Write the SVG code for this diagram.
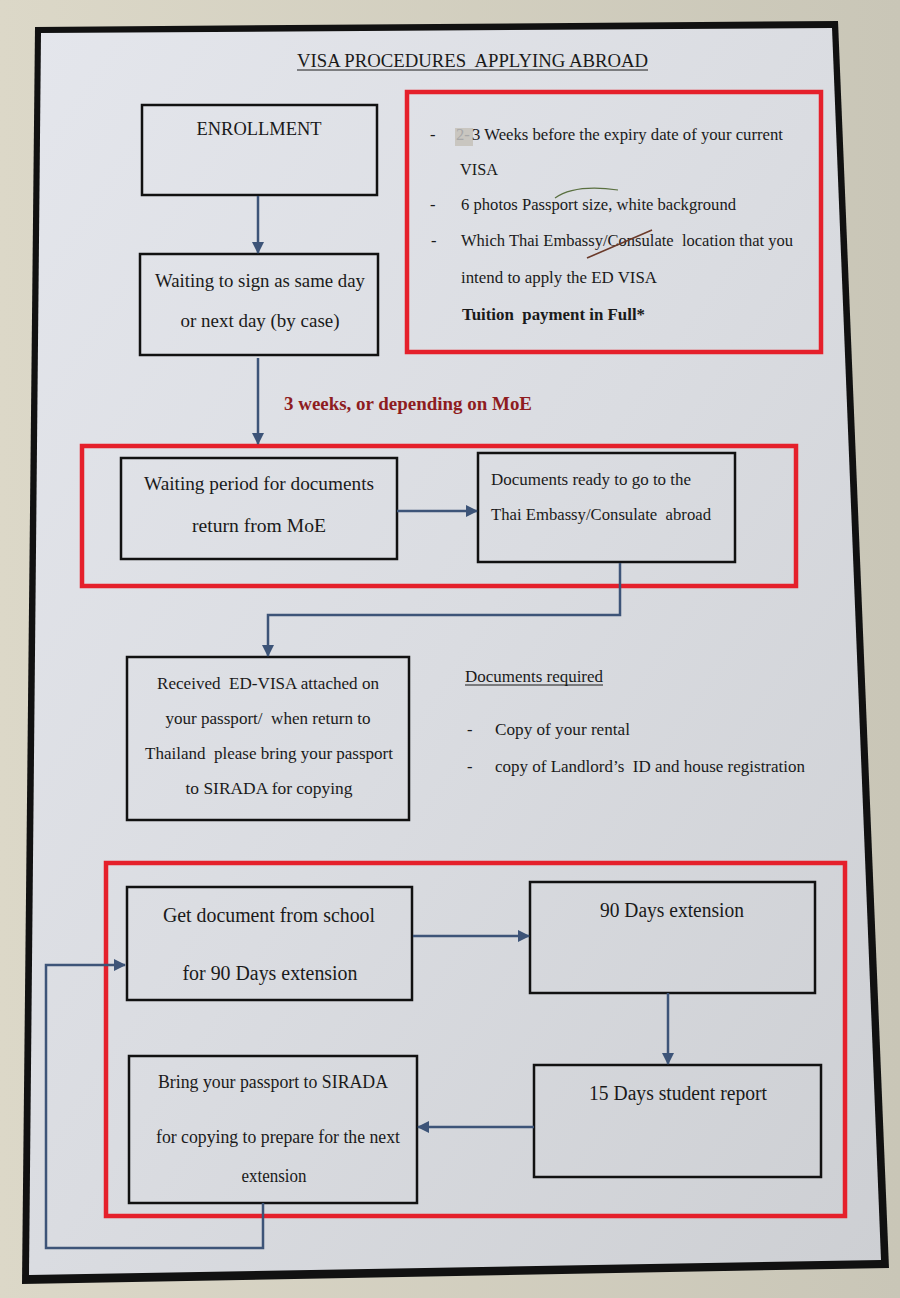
<svg xmlns="http://www.w3.org/2000/svg" width="900" height="1298" viewBox="0 0 900 1298">
<defs>
<linearGradient id="wall" x1="0" y1="0" x2="1" y2="0">
<stop offset="0" stop-color="#dcd8c8"/>
<stop offset="1" stop-color="#c9c6b7"/>
</linearGradient>
<linearGradient id="board" x1="0" y1="0" x2="1" y2="1">
<stop offset="0" stop-color="#e4e6ec"/>
<stop offset="0.5" stop-color="#dadce1"/>
<stop offset="1" stop-color="#cdcfd3"/>
</linearGradient>
<marker id="ah" markerUnits="userSpaceOnUse" markerWidth="12" markerHeight="12" viewBox="0 0 12 12" refX="11" refY="6" orient="auto">
<path d="M0,0 L12,6 L0,12 Z" fill="#3d5478"/>
</marker>
<style>
text{font-family:"Liberation Serif","Times New Roman",serif;fill:#1a1a1a;white-space:pre}
.box{fill:none;stroke:#111;stroke-width:2.5}
.red{fill:none;stroke:#e5202b;stroke-width:4.5}
.conn{fill:none;stroke:#3d5478;stroke-width:2.5}
.c{text-anchor:middle}
.f16{font-size:16.5px}
.f17{font-size:17px}
.f18{font-size:18px}
.f19{font-size:19px}
.f20{font-size:20px}
</style>
</defs>
<rect x="0" y="0" width="900" height="1298" fill="url(#wall)"/>
<polygon points="35,27 838,21 889,1268 22,1284" fill="#111"/>
<polygon points="41,33 832,28 881,1260 29,1275" fill="url(#board)"/>

<g id="title">
<text x="297" y="67" font-size="18.5" textLength="351" lengthAdjust="spacingAndGlyphs">VISA PROCEDURES  APPLYING ABROAD</text>
<line x1="297" y1="70" x2="648" y2="70" stroke="#1a1a1a" stroke-width="1.2"/>
</g>

<g id="requirements">
<rect class="red" x="407" y="92" width="414" height="260"/>
<text class="f16" x="430" y="140">-</text>
<rect x="455" y="128" width="18" height="18" fill="#c9c6c0"/>
<text class="f16" x="456" y="140" style="fill:#a8a8a8">2-</text>
<text class="f16" x="472" y="140" textLength="311" lengthAdjust="spacingAndGlyphs">3 Weeks before the expiry date of your current</text>
<text class="f16" x="460" y="175" textLength="38" lengthAdjust="spacingAndGlyphs">VISA</text>
<text class="f16" x="430" y="210">-</text>
<text class="f16" x="461" y="210" textLength="275" lengthAdjust="spacingAndGlyphs">6 photos Passport size, white background</text>
<text class="f16" x="431" y="246">-</text>
<text class="f16" x="461" y="246" textLength="332" lengthAdjust="spacingAndGlyphs">Which Thai Embassy/Consulate  location that you</text>
<text class="f16" x="461" y="283" textLength="196" lengthAdjust="spacingAndGlyphs">intend to apply the ED VISA</text>
<text class="f16" x="462" y="320" font-weight="bold" textLength="183" lengthAdjust="spacingAndGlyphs">Tuition  payment in Full*</text>
<path d="M555,198 Q575,184 618,190" fill="none" stroke="#5a7040" stroke-width="1.2"/>
<path d="M587,258 L652,230" fill="none" stroke="#6b3a2a" stroke-width="1.6"/>
</g>

<g id="enrollment">
<rect class="box" x="142" y="105" width="235" height="90"/>
<text class="f18 c" x="259" y="135" textLength="125" lengthAdjust="spacingAndGlyphs">ENROLLMENT</text>
</g>

<g id="waiting-sign">
<rect class="box" x="140" y="254" width="238" height="101"/>
<text class="f19 c" x="260" y="287" textLength="210" lengthAdjust="spacingAndGlyphs">Waiting to sign as same day</text>
<text class="f19 c" x="260" y="327" textLength="159" lengthAdjust="spacingAndGlyphs">or next day (by case)</text>
</g>

<g id="duration-label">
<text x="284" y="410" font-size="18.5" font-weight="bold" style="fill:#8e1c1f" textLength="248" lengthAdjust="spacingAndGlyphs">3 weeks, or depending on MoE</text>
</g>

<g id="moe-group">
<rect class="red" x="82" y="446" width="714" height="140"/>
</g>

<g id="waiting-moe">
<rect class="box" x="121" y="458" width="276" height="101"/>
<text class="f19 c" x="259" y="490" textLength="230" lengthAdjust="spacingAndGlyphs">Waiting period for documents</text>
<text class="f19 c" x="259" y="532" textLength="134" lengthAdjust="spacingAndGlyphs">return from MoE</text>
</g>

<g id="documents-ready">
<rect class="box" x="478" y="453" width="257" height="109"/>
<text class="f16" x="491" y="485" textLength="200" lengthAdjust="spacingAndGlyphs">Documents ready to go to the</text>
<text class="f16" x="491" y="520" textLength="220" lengthAdjust="spacingAndGlyphs">Thai Embassy/Consulate  abroad</text>
</g>

<g id="received-visa">
<rect class="box" x="127" y="657" width="282" height="163"/>
<text class="f17 c" x="268" y="689" textLength="222" lengthAdjust="spacingAndGlyphs">Received  ED-VISA attached on</text>
<text class="f17 c" x="268" y="724" textLength="205" lengthAdjust="spacingAndGlyphs">your passport/  when return to</text>
<text class="f17 c" x="269" y="759" textLength="248" lengthAdjust="spacingAndGlyphs">Thailand  please bring your passport</text>
<text class="f17 c" x="269" y="794" textLength="167" lengthAdjust="spacingAndGlyphs">to SIRADA for copying</text>
</g>

<g id="documents-required">
<text class="f16" x="465" y="682" textLength="138" lengthAdjust="spacingAndGlyphs">Documents required</text>
<line x1="465" y1="685" x2="603" y2="685" stroke="#1a1a1a" stroke-width="1"/>
<text class="f16" x="467" y="735">-</text>
<text class="f16" x="495" y="735" textLength="135" lengthAdjust="spacingAndGlyphs">Copy of your rental</text>
<text class="f16" x="467" y="772">-</text>
<text class="f16" x="495" y="772" textLength="310" lengthAdjust="spacingAndGlyphs">copy of Landlord’s  ID and house registration</text>
</g>

<g id="extension-group">
<rect class="red" x="106" y="863" width="739" height="353"/>
</g>

<g id="get-document">
<rect class="box" x="127" y="887" width="285" height="113"/>
<text class="f20 c" x="269" y="922" textLength="212" lengthAdjust="spacingAndGlyphs">Get document from school</text>
<text class="f20 c" x="270" y="980" textLength="175" lengthAdjust="spacingAndGlyphs">for 90 Days extension</text>
</g>

<g id="ninety-days">
<rect class="box" x="530" y="882" width="285" height="111"/>
<text class="f20 c" x="672" y="917" textLength="144" lengthAdjust="spacingAndGlyphs">90 Days extension</text>
</g>

<g id="fifteen-days">
<rect class="box" x="534" y="1065" width="287" height="112"/>
<text class="f20 c" x="678" y="1100" textLength="178" lengthAdjust="spacingAndGlyphs">15 Days student report</text>
</g>

<g id="bring-passport">
<rect class="box" x="129" y="1056" width="288" height="147"/>
<text class="f18 c" x="273" y="1088" textLength="230" lengthAdjust="spacingAndGlyphs">Bring your passport to SIRADA</text>
<text class="f18 c" x="278" y="1143" textLength="244" lengthAdjust="spacingAndGlyphs">for copying to prepare for the next</text>
<text class="f18 c" x="274" y="1182" textLength="65" lengthAdjust="spacingAndGlyphs">extension</text>
</g>

<g id="connectors">
<line class="conn" x1="258" y1="196" x2="258" y2="253" marker-end="url(#ah)"/>
<line class="conn" x1="258" y1="358" x2="258" y2="444" marker-end="url(#ah)"/>
<line class="conn" x1="397" y1="511" x2="477" y2="511" marker-end="url(#ah)"/>
<polyline class="conn" points="620,563 620,615 268,615 268,656" marker-end="url(#ah)"/>
<line class="conn" x1="413" y1="936" x2="529" y2="936" marker-end="url(#ah)"/>
<line class="conn" x1="668" y1="993" x2="668" y2="1064" marker-end="url(#ah)"/>
<line class="conn" x1="534" y1="1127" x2="418" y2="1127" marker-end="url(#ah)"/>
<polyline class="conn" points="263,1203 263,1248 46,1248 46,965 125,965" marker-end="url(#ah)"/>
</g>
</svg>
